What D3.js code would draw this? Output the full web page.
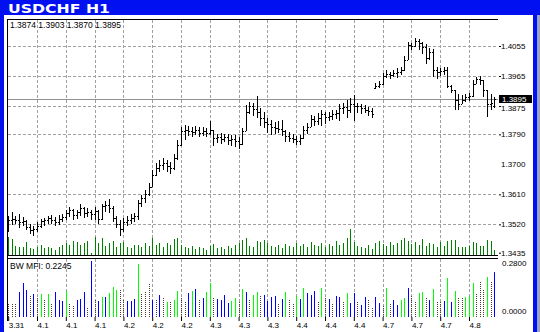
<!DOCTYPE html>
<html lang="en">
<head>
<meta charset="utf-8">
<title>USDCHF H1</title>
<script src="https://d3js.org/d3.v7.min.js"></script>
<style>
  body { margin: 0; background: #fff; }
  svg { display: block; }
  text { font-family: "Liberation Sans", Arial, sans-serif; font-size: 8px; fill: #000; }
  .grid { stroke: #a0a0a0; stroke-width: 1; stroke-dasharray: 3,2; }
  .frame { stroke: #000; stroke-width: 1; }
  .title { font-family: "DejaVu Sans", sans-serif; font-weight: bold; font-size: 12.5px; fill: #fff; }
</style>
</head>
<body>
<script>
// OHLC of each H1 bar
var open = [1.3518,1.3533,1.3536,1.3533,1.3527,1.3530,1.3512,1.3503,1.3506,1.3515,1.3530,1.3533,1.3539,1.3533,1.3527,1.3536,
  1.3542,1.3554,1.3563,1.3548,1.3557,1.3569,1.3554,1.3557,1.3551,1.3560,1.3536,1.3575,1.3578,1.3569,1.3539,1.3521,
  1.3506,1.3527,1.3533,1.3539,1.3545,1.3584,1.3599,1.3611,1.3632,1.3668,1.3689,1.3698,1.3704,1.3695,1.3689,1.3719,
  1.3758,1.3800,1.3803,1.3800,1.3797,1.3803,1.3794,1.3800,1.3794,1.3803,1.3779,1.3782,1.3776,1.3782,1.3773,1.3776,
  1.3770,1.3761,1.3800,1.3857,1.3875,1.3866,1.3857,1.3839,1.3827,1.3821,1.3812,1.3809,1.3806,1.3800,1.3785,1.3779,
  1.3776,1.3770,1.3779,1.3803,1.3812,1.3836,1.3830,1.3839,1.3851,1.3842,1.3845,1.3851,1.3854,1.3869,1.3872,1.3863,
  1.3881,1.3875,1.3875,1.3869,1.3863,1.3860,1.3929,1.3935,1.3941,1.3965,1.3971,1.3968,1.3974,1.3977,1.3983,1.4013,
  1.4058,1.4055,1.4070,1.4064,1.4052,1.4019,1.4037,1.3983,1.3977,1.3980,1.3983,1.3935,1.3923,1.3893,1.3881,1.3893,
  1.3902,1.3905,1.3941,1.3956,1.3953,1.3923,1.3881,1.3874];
var high = [1.3545,1.3557,1.3545,1.3551,1.3542,1.3533,1.3521,1.3515,1.3527,1.3536,1.3539,1.3545,1.3548,1.3542,1.3548,1.3551,
  1.3563,1.3572,1.3566,1.3563,1.3581,1.3572,1.3569,1.3563,1.3572,1.3563,1.3581,1.3590,1.3596,1.3575,1.3545,1.3533,
  1.3539,1.3545,1.3551,1.3554,1.3593,1.3608,1.3623,1.3644,1.3683,1.3704,1.3713,1.3719,1.3713,1.3707,1.3731,1.3773,
  1.3812,1.3818,1.3815,1.3812,1.3815,1.3812,1.3812,1.3809,1.3830,1.3803,1.3791,1.3794,1.3791,1.3791,1.3788,1.3788,
  1.3782,1.3809,1.3878,1.3887,1.3884,1.3905,1.3869,1.3857,1.3839,1.3833,1.3827,1.3830,1.3833,1.3803,1.3797,1.3791,
  1.3785,1.3788,1.3815,1.3824,1.3848,1.3845,1.3854,1.3863,1.3857,1.3857,1.3863,1.3863,1.3881,1.3884,1.3893,1.3899,
  1.3908,1.3884,1.3881,1.3878,1.3872,1.3869,1.3944,1.3950,1.3974,1.3983,1.3977,1.3983,1.3989,1.3992,1.4025,1.4067,
  1.4064,1.4079,1.4076,1.4067,1.4061,1.4049,1.4046,1.3992,1.3989,1.3992,1.3992,1.3938,1.3923,1.3911,1.3908,1.3911,
  1.3914,1.3953,1.3962,1.3965,1.3953,1.3923,1.3911,1.3903];
var low = [1.3497,1.3518,1.3521,1.3509,1.3515,1.3503,1.3491,1.3485,1.3497,1.3509,1.3515,1.3521,1.3521,1.3515,1.3518,1.3527,
  1.3533,1.3542,1.3533,1.3536,1.3545,1.3539,1.3542,1.3533,1.3533,1.3521,1.3533,1.3557,1.3554,1.3527,1.3509,1.3485,
  1.3497,1.3515,1.3521,1.3527,1.3533,1.3572,1.3584,1.3605,1.3632,1.3665,1.3677,1.3683,1.3677,1.3671,1.3683,1.3713,
  1.3755,1.3773,1.3785,1.3782,1.3788,1.3782,1.3785,1.3782,1.3788,1.3755,1.3764,1.3761,1.3767,1.3758,1.3755,1.3752,
  1.3746,1.3758,1.3800,1.3851,1.3845,1.3839,1.3815,1.3809,1.3794,1.3788,1.3791,1.3794,1.3785,1.3767,1.3767,1.3764,
  1.3758,1.3758,1.3776,1.3791,1.3812,1.3815,1.3818,1.3815,1.3821,1.3830,1.3833,1.3836,1.3830,1.3851,1.3839,1.3854,
  1.3830,1.3854,1.3851,1.3854,1.3845,1.3839,1.3926,1.3929,1.3938,1.3959,1.3956,1.3962,1.3959,1.3968,1.3980,1.4013,
  1.4043,1.4052,1.4043,1.4031,1.4001,1.4013,1.3962,1.3956,1.3965,1.3968,1.3929,1.3914,1.3863,1.3863,1.3881,1.3887,
  1.3890,1.3902,1.3941,1.3938,1.3902,1.3842,1.3863,1.3870];
var close = [1.3533,1.3536,1.3533,1.3527,1.3530,1.3512,1.3503,1.3506,1.3515,1.3530,1.3533,1.3539,1.3533,1.3527,1.3536,1.3542,
  1.3554,1.3563,1.3548,1.3557,1.3569,1.3554,1.3557,1.3551,1.3560,1.3536,1.3575,1.3578,1.3569,1.3539,1.3521,1.3506,
  1.3527,1.3533,1.3539,1.3545,1.3584,1.3599,1.3611,1.3632,1.3668,1.3689,1.3698,1.3704,1.3695,1.3689,1.3719,1.3758,
  1.3800,1.3803,1.3800,1.3797,1.3803,1.3794,1.3800,1.3794,1.3803,1.3779,1.3782,1.3776,1.3782,1.3773,1.3776,1.3770,
  1.3761,1.3800,1.3857,1.3875,1.3866,1.3857,1.3839,1.3827,1.3821,1.3812,1.3809,1.3806,1.3800,1.3785,1.3779,1.3776,
  1.3770,1.3779,1.3803,1.3812,1.3836,1.3830,1.3839,1.3851,1.3842,1.3845,1.3851,1.3854,1.3869,1.3872,1.3863,1.3881,
  1.3875,1.3875,1.3869,1.3863,1.3860,1.3851,1.3935,1.3941,1.3965,1.3971,1.3968,1.3974,1.3977,1.3983,1.4013,1.4058,
  1.4055,1.4070,1.4064,1.4052,1.4019,1.4037,1.3983,1.3977,1.3980,1.3983,1.3935,1.3923,1.3893,1.3881,1.3893,1.3902,
  1.3905,1.3941,1.3956,1.3953,1.3923,1.3881,1.3884,1.3895];

// tick volume of each bar
var volume = [900,800,450,400,400,650,350,300,400,500,350,400,350,250,400,500,
  600,500,700,650,500,600,700,100,900,600,850,450,600,700,400,600,
  650,400,350,500,500,400,600,450,850,500,600,400,600,500,800,850,
  500,400,350,450,300,400,350,250,450,550,350,400,300,450,350,500,
  600,750,850,450,400,700,650,750,600,450,400,500,350,550,450,400,
  600,450,550,400,650,500,450,600,400,550,450,700,500,600,850,1300,
  650,450,400,350,500,300,600,700,550,450,650,500,600,750,850,700,
  550,650,500,800,450,600,550,400,650,450,700,750,750,400,400,400,
  450,650,600,450,450,750,700,250];

// BW MFI values and bar colour: g = green, b = blue, r = brown
var mfi = [.070,.070,.070,.125,.170,.135,.105,.115,.100,.115,.085,.115,.070,.125,.085,.080,
  .130,.070,.055,.085,.090,.125,.050,.280,.085,.080,.100,.100,.120,.150,.135,.135,
  .090,.080,.080,.090,.265,.120,.130,.170,.085,.085,.110,.095,.075,.080,.085,.130,
  .100,.080,.120,.130,.140,.085,.095,.125,.170,.100,.090,.085,.110,.070,.080,.095,
  .080,.140,.125,.085,.110,.125,.110,.110,.080,.100,.105,.070,.090,.125,.090,.070,
  .105,.090,.145,.120,.110,.130,.075,.145,.100,.090,.070,.105,.100,.075,.120,.070,
  .120,.075,.060,.100,.085,.045,.100,.070,.060,.145,.070,.085,.060,.085,.095,.145,
  .105,.075,.120,.125,.095,.085,.140,.080,.080,.080,.195,.075,.130,.100,.100,.100,
  .105,.170,.120,.175,.140,.200,.180,.2245];
var mfiKind = ["r","r","r","b","b","b","r","b","r","g","r","g","r","b","b","b",
  "g","r","r","b","b","b","r","b","r","b","g","b","g","g","g","r",
  "r","b","b","b","g","r","r","r","b","r","b","r","g","r","g","g",
  "r","r","b","g","b","r","b","g","g","r","b","b","b","b","g","g",
  "r","g","b","r","g","g","r","b","b","b","b","r","b","g","r","r",
  "g","b","g","b","b","b","r","g","r","b","r","b","b","r","g","b",
  "b","r","b","b","r","r","b","b","r","g","r","b","b","g","g","b",
  "r","r","g","g","r","b","g","r","r","b","g","b","g","r","r","g",
  "g","g","r","r","r","g","r","b"];

var priceTicks = [1.4055, 1.3965, 1.3875, 1.3790, 1.3700, 1.3610, 1.3520, 1.3435];
var dateTicks = [0, 8, 16, 24, 32, 40, 48, 56, 64, 72, 80, 88, 96, 104, 112, 120, 128];
var dateLabels = ["3.31","4.1","4.1","4.1","4.2","4.2","4.2","4.3","4.3","4.3","4.4","4.4","4.4","4.7","4.7","4.7","4.8"];

var W = 540, H = 332;
var plotL = 7, plotR = 498, plotT = 19, mainB = 255, subT = 258, subB = 317;

var svg = d3.select("body").append("svg").attr("width", W).attr("height", H);

// window chrome
svg.append("rect").attr("width", W).attr("height", H).attr("fill", "#fff");
svg.append("rect").attr("width", W).attr("height", 15).attr("fill", "#0010f0");
svg.append("rect").attr("x", 0).attr("y", 15).attr("width", 4).attr("height", H - 15).attr("fill", "#0010f0");
svg.append("rect").attr("x", 533).attr("y", 15).attr("width", 4).attr("height", H - 15).attr("fill", "#0010f0");
svg.append("rect").attr("x", 537).attr("y", 15).attr("width", 3).attr("height", H - 15).attr("fill", "#a0a0c0");
svg.append("text").attr("class", "title").attr("x", 8).attr("y", 12.5)
   .attr("textLength", 102).attr("lengthAdjust", "spacingAndGlyphs").text("USDCHF H1");

var x = d3.scaleLinear().domain([0, close.length - 1]).range([8.2, 494.2]);
var y = d3.scaleLinear().domain([1.3435, 1.4055]).range([252.7, 46]);
var vh = d3.scaleLinear().domain([0, 1300]).range([0, 26]);
var ym = d3.scaleLinear().domain([0, 0.28]).range([subB, 261]);
var px = function (i) { return Math.round(x(i)); };

// grid
var g = svg.append("g");
priceTicks.filter(function (d) { return d !== 1.37 && d !== 1.3435; }).forEach(function (d) {
    var yy = Math.round(y(d)) + 0.5;
    g.append("line").attr("class", "grid").attr("x1", plotL + 1).attr("x2", plotR).attr("y1", yy).attr("y2", yy);
});
dateTicks.slice(1).forEach(function (d) {
    var xx = px(d) + 0.5;
    g.append("line").attr("class", "grid").attr("x1", xx).attr("x2", xx).attr("y1", plotT + 1).attr("y2", mainB);
    g.append("line").attr("class", "grid").attr("x1", xx).attr("x2", xx).attr("y1", subT + 1).attr("y2", subB);
});

// bid line
var bidY = Math.round(y(close[close.length - 1])) + 0.5;
svg.append("line").attr("x1", plotL + 1).attr("x2", plotR).attr("y1", bidY).attr("y2", bidY)
   .attr("stroke", "#909090");

// volumes
svg.append("g").selectAll("rect").data(volume).join("rect")
   .attr("x", function (d, i) { return px(i); })
   .attr("y", function (d) { return mainB - Math.round(vh(d)); })
   .attr("width", 1)
   .attr("height", function (d) { return Math.round(vh(d)); })
   .attr("fill", "#008000");

// OHLC bars
var bars = svg.append("g").selectAll("g").data(close).join("g");
bars.append("rect")
    .attr("x", function (d, i) { return px(i); })
    .attr("y", function (d, i) { return Math.round(y(high[i])); })
    .attr("width", 1)
    .attr("height", function (d, i) { return Math.max(1, Math.round(y(low[i])) - Math.round(y(high[i]))); })
    .attr("fill", "#000");
bars.append("rect")
    .attr("x", function (d, i) { return px(i) - 1; })
    .attr("y", function (d, i) { return Math.round(y(open[i])); })
    .attr("width", 1).attr("height", 1).attr("fill", "#000");
bars.append("rect")
    .attr("x", function (d, i) { return px(i) + 1; })
    .attr("y", function (d) { return Math.round(y(d)); })
    .attr("width", 1).attr("height", 1).attr("fill", "#000");

// BW MFI histogram
var mfiColor = { g: "#00ff00", b: "#0000ff", r: "#4e3a2e" };
svg.append("g").selectAll("line").data(mfi).join("line")
   .attr("x1", function (d, i) { return px(i) + 0.5; })
   .attr("x2", function (d, i) { return px(i) + 0.5; })
   .attr("y1", subB)
   .attr("y2", function (d) { return ym(d); })
   .attr("stroke", function (d, i) { return mfiColor[mfiKind[i]]; })
   .attr("stroke-dasharray", function (d, i) { return mfiKind[i] === "r" ? "1,1" : null; });

// frame
svg.append("line").attr("class", "frame").attr("x1", plotL + 0.5).attr("x2", plotL + 0.5).attr("y1", plotT).attr("y2", subB + 4);
svg.append("line").attr("class", "frame").attr("x1", plotL).attr("x2", plotR).attr("y1", plotT + 0.5).attr("y2", plotT + 0.5);
svg.append("line").attr("class", "frame").attr("x1", plotL).attr("x2", plotR).attr("y1", mainB + 0.5).attr("y2", mainB + 0.5);
svg.append("line").attr("class", "frame").attr("x1", plotL).attr("x2", plotR).attr("y1", subT + 0.5).attr("y2", subT + 0.5);

// price axis
var ax = svg.append("g").attr("transform", "translate(" + plotR + ",0)")
    .call(d3.axisRight(y).tickValues(priceTicks).tickSize(3).tickPadding(0).tickFormat(d3.format(".4f")));
ax.attr("font-family", null).attr("font-size", null);
ax.select(".domain").remove();
ax.selectAll(".tick line").attr("stroke", "#000").attr("x1", 1);
ax.selectAll(".tick text").attr("fill", "#000");
ax.selectAll(".tick").filter(function (d) { return d === 1.37; }).select("line").remove();
// the bid label sits just above the 1.3875 level, push that label down a little
ax.selectAll(".tick").filter(function (d) { return d === 1.3875; }).select("text").attr("dy", "0.6em");

// bid label
var bid = close[close.length - 1];
svg.append("rect").attr("x", 499).attr("y", Math.round(y(bid)) - 4).attr("width", 33).attr("height", 8).attr("fill", "#000");
svg.append("text").attr("x", 502).attr("y", Math.round(y(bid)) + 2.5).style("fill", "#fff")
   .text(d3.format(".4f")(bid));

// time axis
var tx = svg.append("g").attr("transform", "translate(0," + subB + ")")
    .call(d3.axisBottom(x).tickValues(dateTicks).tickSize(4).tickPadding(1)
          .tickFormat(function (d, i) { return dateLabels[i]; }));
tx.attr("font-family", null).attr("font-size", null);
tx.select(".domain").remove();
tx.selectAll(".tick line").attr("stroke", "#000");
tx.selectAll(".tick text").attr("fill", "#000").attr("text-anchor", "start").attr("x", 0);

// sub window scale
svg.append("text").attr("x", 502).attr("y", 266).text("0.2800");
svg.append("text").attr("x", 502).attr("y", 314).text("0.0000");

// info texts
svg.append("text").attr("x", 10).attr("y", 28).style("font-size", "8.5px")
   .text([open, high, low, close].map(function (a) { return a[a.length - 1].toFixed(4); }).join(" "));
svg.append("text").attr("x", 10).attr("y", 269).style("font-size", "8.5px")
   .text("BW MFI:  " + mfi[mfi.length - 1].toFixed(4));
</script>
</body>
</html>
